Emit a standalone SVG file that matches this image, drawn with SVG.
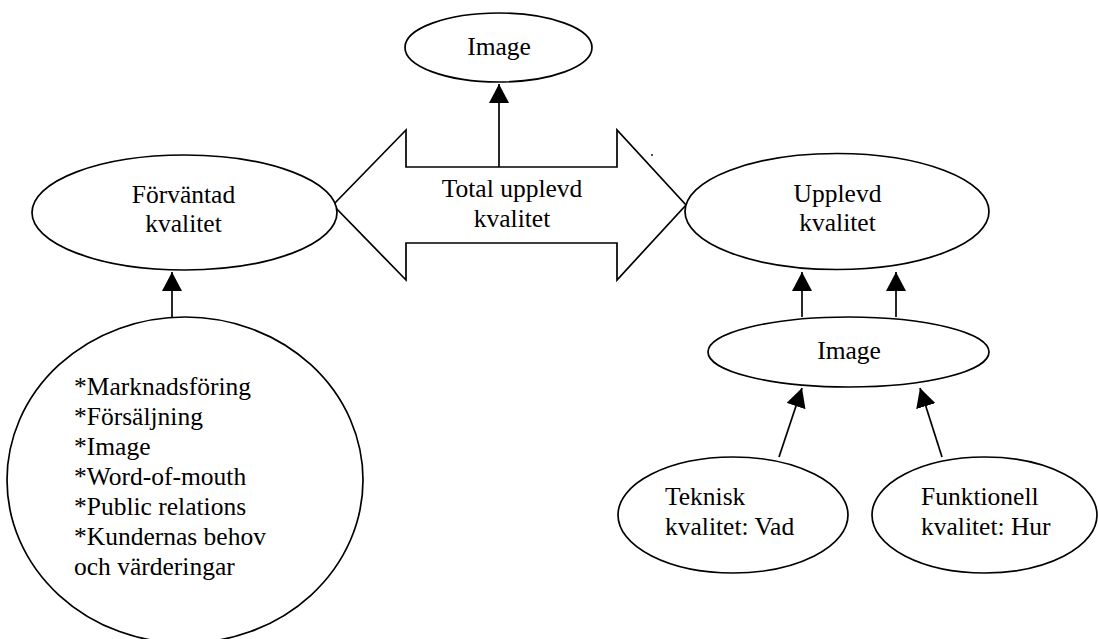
<svg xmlns="http://www.w3.org/2000/svg" width="1098" height="639" viewBox="0 0 1098 639">
  <style>
    .shape { fill: #ffffff; stroke: #000000; stroke-width: 1.7; }
    .mid { text-anchor: middle; }
    .conn { stroke: #000000; stroke-width: 1.7; fill: none; marker-end: url(#arrow); }
  </style>
  <defs>
    <marker id="arrow" markerUnits="userSpaceOnUse" markerWidth="20" markerHeight="20" refX="19" refY="10" orient="auto">
      <path d="M0,0 L19,10 L0,20 z" fill="#000000"/>
    </marker>
  </defs>
  <rect width="1098" height="639" fill="#ffffff"/>

  <g font-family="Liberation Serif, Times New Roman, DejaVu Serif, serif" font-size="25.5" fill="#000000">
  <g id="total">
    <polygon class="shape" points="333,205 406,130 406,167 617,167 617,130 686,205 617,280 617,243 406,243 406,280"/>
    <text class="mid" x="512" y="197">Total upplevd</text>
    <text class="mid" x="512" y="227">kvalitet</text>
  </g>

  <g id="image-top">
    <ellipse class="shape" cx="498.5" cy="47.5" rx="93.5" ry="34.5"/>
    <text class="mid" x="499" y="55">Image</text>
  </g>

  <g id="forvantad">
    <ellipse class="shape" cx="184.5" cy="212.5" rx="152.5" ry="57.5"/>
    <text class="mid" x="183.5" y="203">Förväntad</text>
    <text class="mid" x="183.5" y="232">kvalitet</text>
  </g>

  <g id="faktorer">
    <ellipse class="shape" cx="185" cy="480" rx="178" ry="163"/>
    <text x="74" y="395">*Marknadsföring</text>
    <text x="74" y="425">*Försäljning</text>
    <text x="74" y="455">*Image</text>
    <text x="74" y="485">*Word-of-mouth</text>
    <text x="74" y="515">*Public relations</text>
    <text x="74" y="545">*Kundernas behov</text>
    <text x="74" y="575">och värderingar</text>
  </g>

  <g id="upplevd">
    <ellipse class="shape" cx="837" cy="211.5" rx="152" ry="58"/>
    <text class="mid" x="837.5" y="202">Upplevd</text>
    <text class="mid" x="837.5" y="231">kvalitet</text>
  </g>

  <g id="image-lower">
    <ellipse class="shape" cx="848.5" cy="352" rx="140.5" ry="35"/>
    <text class="mid" x="849" y="359">Image</text>
  </g>

  <g id="teknisk">
    <ellipse class="shape" cx="733" cy="515" rx="115" ry="58"/>
    <text x="665" y="505">Teknisk</text>
    <text x="665" y="535">kvalitet: Vad</text>
  </g>

  <g id="funktionell">
    <ellipse class="shape" cx="984.5" cy="515" rx="112.5" ry="58"/>
    <text x="921" y="505">Funktionell</text>
    <text x="921" y="535">kvalitet: Hur</text>
  </g>
  </g>

  <g id="connectors">
    <line class="conn" x1="499" y1="167" x2="499" y2="84"/>
    <line class="conn" x1="172" y1="317" x2="172" y2="272"/>
    <line class="conn" x1="802" y1="317" x2="802" y2="272"/>
    <line class="conn" x1="896" y1="317" x2="896" y2="272"/>
    <line class="conn" x1="779" y1="457" x2="802" y2="388"/>
    <line class="conn" x1="942" y1="457" x2="920" y2="388"/>
  </g>

  <circle cx="652" cy="155" r="0.9" fill="#000000"/>
</svg>
